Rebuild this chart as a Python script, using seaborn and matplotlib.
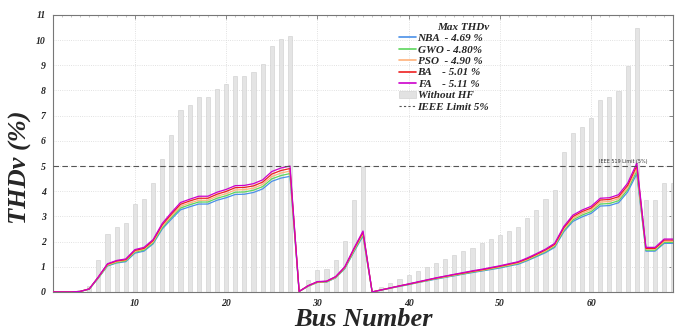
import numpy as np
import pandas as pd
import seaborn as sns
import matplotlib.pyplot as plt
from matplotlib.lines import Line2D
from matplotlib.patches import Patch

# bus numbers of the 69 bus system
bus = list(range(1, 70))

# THDv without harmonic filter (bars)
without_hf = [0, 0, 0, 0, 0.24, 1.27, 2.30, 2.59, 2.72, 3.48,
              3.68, 4.31, 5.27, 6.23, 7.22, 7.41, 7.75, 7.75, 8.04, 8.25,
              8.57, 8.57, 8.73, 9.07, 9.76, 10.03, 10.18, 0, 0.48, 0.87,
              0.91, 1.27, 2.04, 3.65, 4.97, 0, 0.19, 0.34, 0.50, 0.67,
              0.83, 1.00, 1.14, 1.30, 1.46, 1.62, 1.76, 1.93, 2.09, 2.26,
              2.42, 2.57, 2.95, 3.25, 3.68, 4.05, 5.56, 6.30, 6.56, 6.89,
              7.62, 7.75, 7.98, 8.97, 10.46, 3.65, 3.65, 4.31, 4.31]

# THDv with filter, one list per optimiser
nba = [0, 0, 0, 0.02, 0.11, 0.55, 1.03, 1.15, 1.20, 1.54, 1.62, 1.91, 2.50, 2.89, 3.26, 3.38, 3.49, 3.49,
       3.64, 3.74, 3.87, 3.88, 3.95, 4.09, 4.39, 4.52, 4.59,
       0.02, 0.23, 0.38, 0.39, 0.56, 0.92, 1.59, 2.22,
       0, 0.07, 0.15, 0.22, 0.29, 0.37, 0.44, 0.51, 0.58, 0.64, 0.71, 0.77, 0.83, 0.89, 0.95, 1.03,
       1.10, 1.24, 1.40, 1.56, 1.77,
       2.39, 2.80, 2.98, 3.12, 3.41, 3.43, 3.54, 3.97, 4.69,
       1.62, 1.62, 1.93, 1.93]
gwo = [0, 0, 0, 0.02, 0.11, 0.56, 1.05, 1.17, 1.23, 1.58, 1.66, 1.95, 2.55, 2.96, 3.33, 3.46, 3.57, 3.57,
       3.72, 3.82, 3.96, 3.97, 4.04, 4.18, 4.49, 4.62, 4.70,
       0.02, 0.23, 0.38, 0.40, 0.57, 0.94, 1.62, 2.27,
       0, 0.08, 0.15, 0.23, 0.30, 0.38, 0.45, 0.53, 0.59, 0.66, 0.72, 0.79, 0.85, 0.91, 0.98, 1.05,
       1.13, 1.27, 1.43, 1.60, 1.81,
       2.44, 2.86, 3.05, 3.19, 3.49, 3.51, 3.62, 4.06, 4.80,
       1.66, 1.66, 1.97, 1.97]
pso = [0, 0, 0, 0.02, 0.12, 0.58, 1.07, 1.20, 1.26, 1.61, 1.70, 1.99, 2.61, 3.02, 3.40, 3.53, 3.64, 3.64,
       3.80, 3.90, 4.05, 4.06, 4.12, 4.27, 4.58, 4.72, 4.80,
       0.02, 0.24, 0.39, 0.41, 0.58, 0.96, 1.66, 2.32,
       0, 0.08, 0.15, 0.23, 0.31, 0.38, 0.46, 0.54, 0.60, 0.67, 0.74, 0.81, 0.86, 0.93, 1.00, 1.07,
       1.15, 1.29, 1.46, 1.63, 1.85,
       2.49, 2.92, 3.12, 3.26, 3.57, 3.59, 3.70, 4.14, 4.90,
       1.70, 1.70, 2.01, 2.01]
ba = [0, 0, 0, 0.02, 0.12, 0.59, 1.10, 1.23, 1.28, 1.65, 1.73, 2.04, 2.67, 3.09, 3.48, 3.61, 3.72, 3.72,
      3.88, 3.99, 4.14, 4.15, 4.21, 4.36, 4.68, 4.82, 4.90,
      0.02, 0.25, 0.40, 0.42, 0.60, 0.98, 1.70, 2.37,
      0, 0.08, 0.16, 0.24, 0.31, 0.39, 0.47, 0.55, 0.62, 0.69, 0.75, 0.82, 0.88, 0.95, 1.02, 1.10,
      1.18, 1.32, 1.49, 1.67, 1.89,
      2.55, 2.99, 3.19, 3.33, 3.65, 3.67, 3.78, 4.23, 5.01,
      1.73, 1.73, 2.06, 2.06]
fa = [0, 0, 0, 0.02, 0.12, 0.60, 1.12, 1.25, 1.31, 1.68, 1.77, 2.08, 2.72, 3.15, 3.55, 3.68, 3.80, 3.80,
      3.96, 4.07, 4.22, 4.23, 4.30, 4.45, 4.78, 4.92, 5.00,
      0.02, 0.25, 0.41, 0.43, 0.61, 1.00, 1.73, 2.42,
      0, 0.08, 0.16, 0.24, 0.32, 0.40, 0.48, 0.56, 0.63, 0.70, 0.77, 0.84, 0.90, 0.97, 1.04, 1.12,
      1.20, 1.35, 1.52, 1.70, 1.93,
      2.60, 3.05, 3.25, 3.40, 3.72, 3.74, 3.86, 4.32, 5.11,
      1.77, 1.77, 2.10, 2.10]

methods = ['NBA', 'GWO', 'PSO', 'BA', 'FA']
legend_labels = ['NBA  - 4.69 %', 'GWO - 4.80%', 'PSO  - 4.90 %', 'BA    - 5.01 %', 'FA    - 5.11 %']
colors = ['#4a90e8', '#5cd65c', '#ffb27a', '#ee2020', '#cc00cc']
ieee_limit = 5

# long table for seaborn
series = [nba, gwo, pso, ba, fa]
df = pd.concat([pd.DataFrame({'bus': bus, 'thd': s, 'method': m}) for m, s in zip(methods, series)],
               ignore_index=True)

sns.set_style('white')
plt.rcParams['font.family'] = ['Liberation Serif', 'DejaVu Serif']
plt.rcParams['font.weight'] = 'bold'
plt.rcParams['font.style'] = 'italic'

fig = plt.figure(figsize=(6.76, 3.31), dpi=100)
ax = fig.add_axes([0.078, 0.118, 0.918, 0.837])

sns.barplot(x=bus, y=without_hf, native_scale=True, width=0.45, color='#e4e4e4',
            edgecolor='#cccccc', linewidth=0.4, ax=ax, zorder=2)
sns.lineplot(data=df, x='bus', y='thd', hue='method', hue_order=methods, palette=colors,
             linewidth=0.9, legend=False, ax=ax, zorder=3)
ax.axhline(ieee_limit, color='#555555', linestyle='--', linewidth=0.8, dashes=(5, 3), zorder=4)
ax.text(66.2, ieee_limit + 0.08, 'IEEE 519 Limit (5%)', fontsize=3.5, ha='right', va='bottom',
        family='DejaVu Sans', style='normal', weight='normal', color='#333333')

ax.set_xlim(1.15, 68.9)
ax.set_ylim(0, 11)
ax.set_xticks([10, 20, 30, 40, 50, 60])
ax.set_xticks(bus, minor=True)
ax.set_yticks(range(0, 12))
ax.tick_params(axis='both', which='major', direction='in', top=True, right=True,
               labelsize=7, length=3, width=0.6, color='#777777', pad=5)
ax.tick_params(axis='x', which='minor', direction='in', top=True, length=1.5, width=0.4, color='#999999')
ax.grid(True, which='major', linestyle=':', linewidth=0.6, color='#d8d8d8', zorder=0)
ax.set_axisbelow(True)
for sp in ax.spines.values():
    sp.set_color('#777777')
    sp.set_linewidth(0.8)

ax.set_xlabel('Bus Number', fontsize=19, fontweight='bold', labelpad=0)
ax.set_ylabel('THDv (%)', fontsize=19, fontweight='bold')
ax.yaxis.set_label_coords(-0.034, 0.45)

handles = [Line2D([0], [0], color=c, lw=1.2) for c in colors]
handles.append(Patch(facecolor='#e2e2e2', edgecolor='#cccccc', linewidth=0.4))
handles.append(Line2D([0], [0], color='#555555', lw=0.8, linestyle='--', dashes=(2, 2)))
labels = legend_labels + ['Without HF', 'IEEE Limit 5%']
leg = ax.legend(handles, labels, title='Max THDv', loc='upper left', bbox_to_anchor=(0.545, 1.0),
                frameon=False, fontsize=8, title_fontsize=8, handlelength=1.6,
                handletextpad=0.1, labelspacing=0.15, borderpad=0.2)
leg.get_title().set_fontweight('bold')
leg.get_title().set_fontstyle('italic')
leg._legend_box.align = 'right'

fig.savefig('out.png', dpi=100)
